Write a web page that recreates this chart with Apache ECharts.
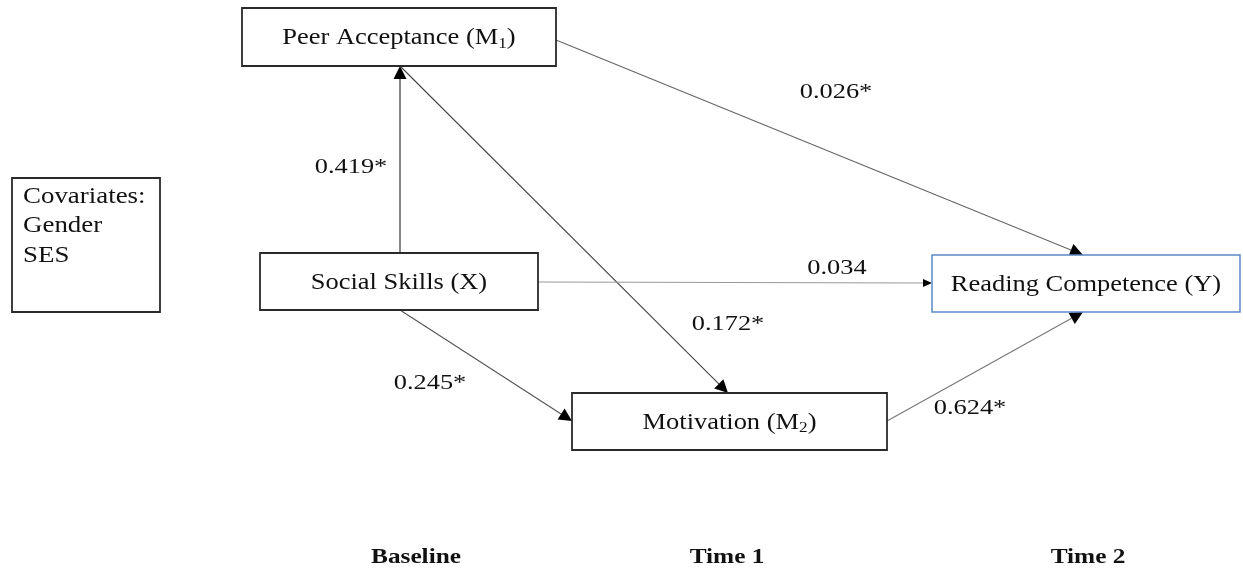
<!DOCTYPE html>
<html>
<head>
<meta charset="utf-8">
<script src="https://cdn.jsdelivr.net/npm/echarts@6/dist/echarts.min.js"></script>
<style>html,body{margin:0;padding:0;background:#fff;}#chart{width:1243px;height:576px;}</style>
</head>
<body>
<div id="chart"></div>
<script>
// ---- data ----
const nodeIds = ['M1', 'X', 'Y', 'M2', 'C'];
const nodeNames = ['Peer Acceptance (M', 'Social Skills (X)', 'Reading Competence (Y)', 'Motivation (M', 'Covariates:\nGender\nSES'];
const nodeSubs = ['1', '', '', '2', ''];
const nodeTails = [')', '', '', ')', ''];
const edgeFrom = ['X', 'M1', 'M1', 'X', 'X', 'M2'];
const edgeTo = ['M1', 'M2', 'Y', 'Y', 'M2', 'Y'];
const edgeCoef = [0.419, 0.172, 0.026, 0.034, 0.245, 0.624];
const edgeSig = [true, true, true, false, true, true];
const timeLabels = ['Baseline', 'Time 1', 'Time 2'];

// ---- layout (positions / styles) ----
const boxRect = { M1: [242, 8, 556, 66], X: [260, 253, 538, 310], Y: [932, 255, 1240, 312], M2: [572, 393, 887, 450], C: [12, 178, 160, 312] };
const boxBorder = { M1: '#2a2a2a', X: '#2a2a2a', Y: '#5a8ac6', M2: '#2a2a2a', C: '#2a2a2a' };
const edgePts = [
  [400, 253, 400, 66],
  [400, 66, 728, 393],
  [556, 40, 1083, 255],
  [538, 282, 932, 283],
  [400, 310, 572, 421],
  [887, 421, 1083, 312]
];
const edgeColor = ['#222', '#444', '#666', '#999', '#555', '#777'];
const edgeHead = [[13, 6.5], [13, 6.5], [13, 6.5], [9, 4], [13, 6.5], [13, 6.5]];
const labelPos = [[351, 167], [728, 324], [836, 92], [837, 268], [430, 383], [970, 408]];
const timePos = [[416, 557], [727, 557], [1088, 557]];
const SX = 1.15;
const FONT = '"Liberation Serif", "Times New Roman", serif';

const chart = echarts.init(document.getElementById('chart'), null, { renderer: 'canvas' });

function boxItem(params, api) {
  const i = params.dataIndex;
  const id = nodeIds[i];
  const r = boxRect[id];
  const p1 = api.coord([r[0], r[1]]);
  const p2 = api.coord([r[2], r[3]]);
  const children = [{
    type: 'rect',
    shape: { x: p1[0], y: p1[1], width: p2[0] - p1[0], height: p2[1] - p1[1] },
    style: { fill: '#fff', stroke: boxBorder[id], lineWidth: id === 'Y' ? 1.5 : 1.8 }
  }];
  if (id === 'C') {
    children.push({
      type: 'text', x: p1[0] + 11, y: p1[1] + 4, scaleX: 1.17,
      style: { text: nodeNames[i], fontFamily: FONT, fontSize: 23, lineHeight: 29.5, fill: '#111', align: 'left', verticalAlign: 'top' }
    });
  } else {
    let txt = nodeNames[i];
    if (nodeSubs[i]) txt = '{m|' + nodeNames[i] + '}{s|' + nodeSubs[i] + '}{m|' + nodeTails[i] + '}';
    children.push({
      type: 'text', x: (p1[0] + p2[0]) / 2, y: (p1[1] + p2[1]) / 2 + 1, scaleX: SX,
      style: {
        text: txt, fontFamily: FONT, fontSize: 23, fill: '#111', align: 'center', verticalAlign: 'middle',
        rich: {
          m: { fontFamily: FONT, fontSize: 23, lineHeight: 27, fill: '#111', verticalAlign: 'middle' },
          s: { fontFamily: FONT, fontSize: 15, lineHeight: 15, fill: '#111', verticalAlign: 'bottom' }
        }
      }
    });
  }
  return { type: 'group', children: children };
}

function edgeItem(params, api) {
  const i = params.dataIndex;
  const e = edgePts[i];
  const a = api.coord([e[0], e[1]]);
  const b = api.coord([e[2], e[3]]);
  const dx = b[0] - a[0], dy = b[1] - a[1];
  const len = Math.sqrt(dx * dx + dy * dy);
  const ux = dx / len, uy = dy / len;
  const L = edgeHead[i][0], W = edgeHead[i][1];
  const bx = b[0] - ux * L, by = b[1] - uy * L;
  return {
    type: 'group',
    children: [
      { type: 'line', shape: { x1: a[0], y1: a[1], x2: bx, y2: by }, style: { stroke: edgeColor[i], lineWidth: 1.1 } },
      { type: 'polygon', shape: { points: [[b[0], b[1]], [bx - uy * W, by + ux * W], [bx + uy * W, by - ux * W]] }, style: { fill: '#000' } }
    ]
  };
}

function labelItem(params, api) {
  const i = params.dataIndex;
  const p = api.coord(labelPos[i]);
  return {
    type: 'text', x: p[0], y: p[1], scaleX: 1.2,
    style: { text: edgeCoef[i].toFixed(3) + (edgeSig[i] ? '*' : ''), fontFamily: FONT, fontSize: 22, fill: '#111', align: 'center', verticalAlign: 'middle' }
  };
}

function timeItem(params, api) {
  const i = params.dataIndex;
  const p = api.coord(timePos[i]);
  return {
    type: 'text', x: p[0], y: p[1], scaleX: 1.15,
    style: { text: timeLabels[i], fontFamily: FONT, fontSize: 22, fontWeight: 'bold', fill: '#111', align: 'center', verticalAlign: 'middle' }
  };
}

chart.setOption({
  animation: false,
  backgroundColor: '#fff',
  grid: { left: 0, right: 0, top: 0, bottom: 0 },
  xAxis: { type: 'value', min: 0, max: 1243, show: false },
  yAxis: { type: 'value', min: 0, max: 576, inverse: true, show: false },
  series: [
    { type: 'custom', coordinateSystem: 'cartesian2d', renderItem: edgeItem, data: edgeFrom.map((f, i) => [edgePts[i][2], edgePts[i][3]]), z: 1, silent: true },
    { type: 'custom', coordinateSystem: 'cartesian2d', renderItem: boxItem, data: nodeIds.map(id => [boxRect[id][0], boxRect[id][1]]), z: 2, silent: true },
    { type: 'custom', coordinateSystem: 'cartesian2d', renderItem: labelItem, data: edgeCoef.map((v, i) => [labelPos[i][0], labelPos[i][1]]), z: 3, silent: true },
    { type: 'custom', coordinateSystem: 'cartesian2d', renderItem: timeItem, data: timeLabels.map((t, i) => [timePos[i][0], timePos[i][1]]), z: 3, silent: true }
  ]
});
</script>
</body>
</html>
